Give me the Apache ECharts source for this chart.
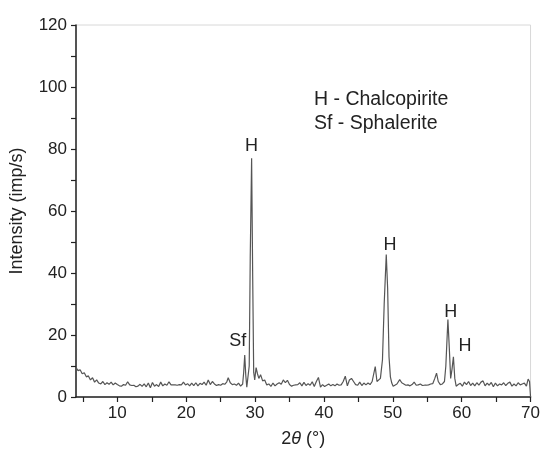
<!DOCTYPE html>
<html>
<head>
<meta charset="utf-8">
<script src="https://cdn.jsdelivr.net/npm/echarts@6/dist/echarts.min.js"></script>
<style>
html,body{margin:0;padding:0;background:#fff;}
#chart{width:543px;height:453px;}
</style>
</head>
<body>
<div id="chart"></div>
<script>
const angle = [
4.0,4.3,4.6,4.9,5.2,5.5,5.8,6.1,6.4,6.7,7.0,7.3,7.6,7.9,8.2,8.5,8.8,9.1,9.4,9.7,
10.0,10.3,10.6,10.9,11.2,11.5,11.8,12.1,12.4,12.7,13.0,13.3,13.6,13.9,14.2,14.5,14.8,15.1,15.4,15.7,
16.0,16.3,16.6,16.9,17.2,17.5,17.8,18.1,18.4,18.7,19.0,19.3,19.6,19.9,20.2,20.5,20.8,21.1,21.4,21.7,
22.0,22.3,22.6,22.9,23.2,23.5,23.8,24.1,24.4,24.7,25.0,25.3,25.6,25.9,26.1,26.4,26.7,27.0,27.3,27.6,
27.9,28.2,28.35,28.5,28.65,28.8,28.95,29.15,29.3,29.5,29.65,29.8,29.95,30.15,30.35,30.55,30.8,31.1,31.4,31.7,
32.0,32.3,32.6,32.9,33.2,33.5,33.8,34.1,34.4,34.7,35.0,35.3,35.6,35.9,36.2,36.5,36.8,37.1,37.4,37.7,
38.0,38.3,38.6,38.9,39.2,39.5,39.8,40.1,40.4,40.7,41.0,41.3,41.6,41.9,42.2,42.5,42.8,43.1,43.4,43.7,
44.0,44.3,44.6,44.9,45.2,45.5,45.8,46.1,46.4,46.7,47.0,47.2,47.45,47.7,47.95,48.2,48.5,48.75,49.05,49.25,
49.45,49.65,49.85,50.05,50.3,50.6,51.0,51.3,51.6,51.9,52.2,52.5,52.8,53.1,53.4,53.7,54.0,54.3,54.6,54.9,
55.2,55.5,55.8,56.1,56.35,56.6,56.9,57.2,57.5,57.7,58.0,58.2,58.4,58.6,58.8,59.0,59.2,59.5,59.8,60.1,
60.4,60.7,61.0,61.3,61.6,61.9,62.2,62.5,62.8,63.1,63.4,63.7,64.0,64.3,64.6,64.9,65.2,65.5,65.8,66.1,
66.4,66.7,67.0,67.3,67.6,67.9,68.2,68.5,68.8,69.1,69.4,69.65,69.85,70.0
];
const intensity = [
9.5,8.5,8.8,7.5,7.8,6.5,6.8,5.5,6.2,4.8,5.5,4.5,4.2,5.0,4.0,4.6,4.1,4.8,3.9,4.5,
4.0,3.6,3.5,4.0,3.8,4.9,3.9,3.7,3.8,3.3,3.5,4.1,3.4,4.2,3.3,4.5,3.0,4.7,3.5,4.0,
3.4,4.8,3.6,4.2,3.8,4.9,3.9,3.9,3.9,3.8,4.0,3.9,4.8,3.9,4.3,3.6,4.5,3.7,4.6,3.6,
4.4,4.0,4.8,3.8,5.5,4.0,5.0,4.2,3.7,4.0,3.8,4.3,4.1,4.9,6.2,4.6,4.0,4.2,3.8,4.5,
3.5,4.2,8.0,13.5,7.0,3.2,3.0,10.0,45.0,77.0,40.0,8.0,5.5,9.5,7.5,6.0,7.2,5.2,5.5,3.9,
4.2,3.4,4.5,3.6,4.2,4.6,4.1,5.5,4.6,5.4,4.0,3.5,3.8,3.9,4.0,4.6,3.6,4.7,3.7,4.3,
3.8,4.9,3.4,5.0,6.3,3.2,4.0,3.4,3.8,4.2,3.6,4.0,3.6,4.2,3.8,3.9,5.0,6.7,3.6,5.5,
6.0,5.0,4.0,3.8,4.8,3.7,4.5,3.9,4.5,4.0,5.0,4.8,9.8,5.0,5.5,6.0,12.0,30.0,46.0,35.0,
13.0,6.5,4.5,3.5,4.0,4.2,5.6,4.6,4.2,3.8,3.9,3.6,4.0,4.8,3.8,3.9,4.2,3.7,3.8,3.8,
3.9,4.2,4.3,6.0,7.7,5.0,4.0,4.2,5.0,10.0,25.0,16.0,6.0,9.0,13.0,6.0,3.5,4.0,4.4,3.5,
4.8,4.0,5.0,3.7,4.5,3.6,4.6,3.8,4.8,5.2,3.6,4.5,3.8,4.7,3.3,4.5,3.6,4.2,3.9,4.6,
3.7,4.4,4.8,3.5,4.2,3.6,4.6,3.9,4.2,4.5,3.5,5.8,5.0,0.0
];
const xLabelTicks = [10,20,30,40,50,60,70];
const xMinorTicks = [5,10,15,20,25,30,35,40,45,50,55,60,65,70];
const peakLabels = ['Sf','H','H','H','H'];
const peakAngles = [27.5,29.5,49.6,58.4,60.5];
const peakLabelLevels = [18,81,49,27.5,16.5];
const legendLines = ['H - Chalcopirite','Sf - Sphalerite'];

const font = '"Liberation Sans", Arial, sans-serif';
const chart = echarts.init(document.getElementById('chart'));
chart.setOption({
  animation:false,
  backgroundColor:'#fff',
  grid:{left:75,right:9,top:25,bottom:56,show:true,borderColor:'#d8d8d8',borderWidth:1,containLabel:false},
  xAxis:{
    type:'value',min:4,max:70,
    name:'{n|2}{i|θ}{n| (°)}',nameLocation:'middle',nameGap:33,
    nameTextStyle:{rich:{n:{fontFamily:font,fontSize:18,color:'#222'},i:{fontFamily:font,fontSize:18,fontStyle:'italic',color:'#222'}}},
    axisLine:{lineStyle:{color:'#222',width:1.5}},
    axisTick:{show:true,length:5,customValues:xMinorTicks,lineStyle:{color:'#222',width:1.2}},
    axisLabel:{customValues:xLabelTicks,margin:8,fontFamily:font,fontSize:17,color:'#222'},
    splitLine:{show:false}
  },
  yAxis:{
    type:'value',min:0,max:120,interval:10,
    name:'Intensity (imp/s)',nameLocation:'middle',nameGap:50,
    nameTextStyle:{fontFamily:font,fontSize:18,color:'#222'},
    axisLine:{show:true,lineStyle:{color:'#222',width:1.5}},
    axisTick:{show:true,length:5,lineStyle:{color:'#222',width:1.2}},
    axisLabel:{margin:9,fontFamily:font,fontSize:17,color:'#222',formatter:v=>(v%20===0?String(v):'')},
    splitLine:{show:false}
  },
  series:[{
    type:'line',
    data:angle.map((a,i)=>[a,intensity[i]]),
    showSymbol:false,symbol:'none',
    lineStyle:{color:'#555',width:1.2},
    markPoint:{
      symbol:'circle',symbolSize:0,
      label:{show:true,fontFamily:font,fontSize:18,color:'#222',formatter:p=>p.name},
      data:peakLabels.map((t,i)=>({name:t,coord:[peakAngles[i],peakLabelLevels[i]]}))
    }
  }],
  graphic:legendLines.map((t,i)=>({
    type:'text',left:314,top:90+i*24,
    style:{text:t,fontFamily:font,fontSize:19.5,fill:'#222'}
  }))
});
</script>
</body>
</html>
